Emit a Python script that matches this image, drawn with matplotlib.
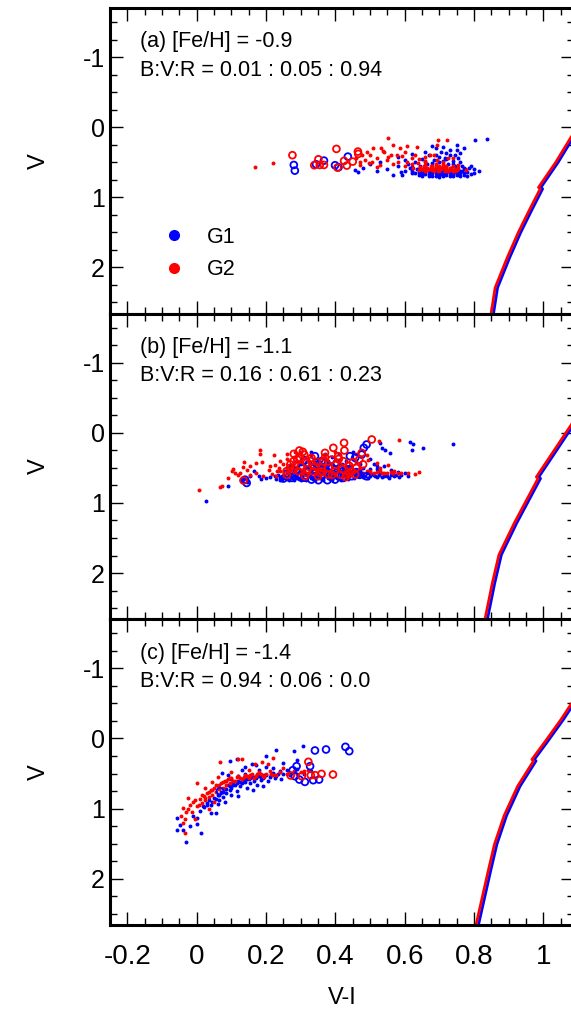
import matplotlib
matplotlib.use("Agg")
import matplotlib.pyplot as plt
from matplotlib.lines import Line2D

plt.rcParams['font.family'] = ['Liberation Sans', 'DejaVu Sans']

# ---- panel (a) data : (V-I, V) ----
a_g1_x = [0.457, 0.466, 0.50, 0.567, 0.591, 0.55, 0.58, 0.60, 0.615, 0.62, 0.63, 0.635, 0.64, 0.645, 0.65,
          0.655, 0.66, 0.66, 0.665, 0.67, 0.67, 0.675, 0.68, 0.68, 0.685, 0.69, 0.69, 0.695, 0.70, 0.70,
          0.705, 0.705, 0.71, 0.71, 0.715, 0.715, 0.72, 0.72, 0.725, 0.725, 0.73, 0.73, 0.735, 0.735, 0.74,
          0.74, 0.745, 0.745, 0.75, 0.75, 0.755, 0.755, 0.76, 0.76, 0.765, 0.77, 0.77, 0.775, 0.78, 0.785,
          0.79, 0.80, 0.803, 0.837, 0.66, 0.69, 0.70, 0.72, 0.60, 0.62, 0.58, 0.64, 0.67, 0.70, 0.73,
          0.76, 0.53, 0.52, 0.48, 0.68, 0.71, 0.74, 0.695, 0.65, 0.62,
          0.63, 0.64, 0.65, 0.66, 0.67, 0.68, 0.69, 0.70, 0.71, 0.72, 0.73, 0.74, 0.75, 0.76, 0.77,
          0.78, 0.765, 0.755, 0.745, 0.73, 0.715, 0.705, 0.69, 0.675, 0.66, 0.645, 0.68, 0.71, 0.74,
          0.76, 0.72, 0.69, 0.745, 0.73, 0.71, 0.75, 0.68, 0.79, 0.80, 0.815, 0.77, 0.62, 0.61, 0.59]
a_g1_v = [0.61, 0.634, 0.52, 0.68, 0.68, 0.60, 0.55, 0.62, 0.58, 0.66, 0.50, 0.60, 0.64, 0.55, 0.45,
          0.62, 0.67, 0.58, 0.52, 0.40, 0.63, 0.60, 0.66, 0.55, 0.47, 0.62, 0.69, 0.58, 0.64, 0.50,
          0.36, 0.67, 0.61, 0.55, 0.44, 0.65, 0.60, 0.68, 0.52, 0.63, 0.40, 0.66, 0.58, 0.62, 0.69,
          0.48, 0.64, 0.56, 0.33, 0.60, 0.66, 0.44, 0.62, 0.37, 0.55, 0.65, 0.30, 0.60, 0.64, 0.58,
          0.67, 0.60, 0.18, 0.17, 0.35, 0.30, 0.42, 0.37, 0.47, 0.38, 0.43, 0.68, 0.70, 0.71, 0.70,
          0.69, 0.50, 0.62, 0.58, 0.63, 0.67, 0.63, 0.66, 0.66, 0.63,
          0.66, 0.60, 0.69, 0.64, 0.67, 0.69, 0.66, 0.68, 0.69, 0.66, 0.64, 0.67, 0.68, 0.66, 0.68,
          0.69, 0.62, 0.63, 0.61, 0.62, 0.59, 0.62, 0.60, 0.64, 0.61, 0.64, 0.51, 0.48, 0.52,
          0.50, 0.45, 0.39, 0.40, 0.33, 0.28, 0.26, 0.27, 0.55, 0.65, 0.62, 0.58, 0.57, 0.52, 0.64]
a_g2_x = [0.168, 0.219, 0.551, 0.509, 0.490, 0.476, 0.533, 0.536, 0.567, 0.586, 0.607, 0.636, 0.692, 0.721,
          0.697, 0.507, 0.529, 0.553, 0.577, 0.591, 0.606, 0.620, 0.639, 0.658, 0.673, 0.685, 0.694, 0.711,
          0.726, 0.740, 0.755, 0.777, 0.485, 0.498, 0.519, 0.46, 0.47, 0.55, 0.565, 0.60, 0.63, 0.66,
          0.645, 0.65, 0.655, 0.66, 0.665, 0.67, 0.675, 0.68, 0.685, 0.69, 0.695, 0.70, 0.705, 0.71,
          0.715, 0.72, 0.725, 0.73, 0.735, 0.74, 0.745, 0.75, 0.755, 0.70, 0.68, 0.66, 0.72, 0.74, 0.64, 0.625,
          0.655, 0.665, 0.675, 0.685, 0.695, 0.705, 0.715, 0.725, 0.735, 0.745, 0.70, 0.72, 0.69, 0.71,
          0.66, 0.64, 0.62, 0.60, 0.58, 0.56, 0.52, 0.54, 0.50, 0.47]
a_g2_v = [0.562, 0.505, 0.158, 0.30, 0.348, 0.396, 0.30, 0.334, 0.253, 0.30, 0.267, 0.277, 0.253, 0.181,
          0.181, 0.491, 0.539, 0.42, 0.396, 0.41, 0.491, 0.443, 0.515, 0.42, 0.396, 0.396, 0.467, 0.491,
          0.443, 0.443, 0.539, 0.61, 0.467, 0.515, 0.572, 0.44, 0.50, 0.47, 0.52, 0.36, 0.40, 0.50,
          0.57, 0.60, 0.55, 0.62, 0.58, 0.60, 0.56, 0.61, 0.59, 0.57, 0.62, 0.59, 0.60, 0.57,
          0.62, 0.59, 0.61, 0.58, 0.60, 0.62, 0.59, 0.61, 0.58, 0.63, 0.55, 0.54, 0.55, 0.56, 0.61, 0.58,
          0.60, 0.61, 0.59, 0.62, 0.60, 0.58, 0.60, 0.63, 0.61, 0.62, 0.56, 0.57, 0.53, 0.52,
          0.48, 0.45, 0.52, 0.55, 0.49, 0.40, 0.44, 0.35, 0.40, 0.54]
a_g1o_x = [0.280, 0.283, 0.344, 0.367, 0.399, 0.409, 0.436]
a_g1o_v = [0.539, 0.62, 0.529, 0.477, 0.543, 0.572, 0.42]
a_g2o_x = [0.276, 0.339, 0.351, 0.355, 0.367, 0.403, 0.406, 0.425, 0.433, 0.450, 0.465, 0.466]
a_g2o_v = [0.40, 0.543, 0.458, 0.539, 0.539, 0.31, 0.577, 0.481, 0.548, 0.491, 0.348, 0.381]

# ---- panel (b) data ----
b_g1_x = [0.027, 0.091, 0.127, 0.135, 0.145, 0.18, 0.185, 0.20, 0.21, 0.23, 0.24, 0.24, 0.25, 0.26, 0.27,
          0.28, 0.29, 0.30, 0.30, 0.31, 0.32, 0.33, 0.34, 0.35, 0.36, 0.37, 0.38, 0.39, 0.40, 0.41,
          0.42, 0.43, 0.44, 0.45, 0.46, 0.47, 0.48, 0.49, 0.50, 0.51, 0.52, 0.53, 0.54, 0.55, 0.56,
          0.57, 0.58, 0.59, 0.529, 0.534, 0.543, 0.558, 0.615, 0.62, 0.625, 0.652, 0.738, 0.50, 0.51,
          0.52, 0.54, 0.56, 0.48, 0.46, 0.44, 0.42, 0.40, 0.38, 0.36, 0.34, 0.32, 0.30, 0.28, 0.26,
          0.35, 0.39, 0.43, 0.47, 0.29, 0.33, 0.41, 0.45, 0.155, 0.165,
          0.225, 0.235, 0.245, 0.255, 0.265, 0.275, 0.285, 0.295, 0.305, 0.315, 0.325, 0.335, 0.345,
          0.355, 0.365, 0.375, 0.385, 0.395, 0.405, 0.415, 0.425, 0.435, 0.445, 0.455, 0.465, 0.475,
          0.485, 0.495, 0.505, 0.515, 0.525, 0.535, 0.545, 0.555, 0.565, 0.575, 0.585, 0.60, 0.61,
          0.50, 0.52, 0.47, 0.43, 0.39, 0.37, 0.35, 0.31, 0.27]
b_g1_v = [0.977, 0.753, 0.68, 0.65, 0.70, 0.62, 0.66, 0.64, 0.63, 0.66, 0.64, 0.68, 0.62, 0.66, 0.60,
          0.67, 0.64, 0.62, 0.68, 0.66, 0.60, 0.64, 0.68, 0.62, 0.66, 0.60, 0.64, 0.68, 0.62, 0.66,
          0.60, 0.64, 0.62, 0.58, 0.62, 0.60, 0.63, 0.58, 0.62, 0.60, 0.63, 0.58, 0.61, 0.62, 0.60,
          0.62, 0.56, 0.60, 0.144, 0.215, 0.239, 0.287, 0.134, 0.239, 0.153, 0.215, 0.158, 0.38, 0.45,
          0.52, 0.48, 0.53, 0.50, 0.42, 0.50, 0.45, 0.50, 0.40, 0.48, 0.42, 0.50, 0.45, 0.55, 0.58,
          0.55, 0.56, 0.55, 0.53, 0.32, 0.28, 0.30, 0.28, 0.62, 0.55,
          0.62, 0.60, 0.66, 0.64, 0.68, 0.63, 0.61, 0.66, 0.64, 0.68, 0.62, 0.66, 0.60,
          0.64, 0.68, 0.62, 0.66, 0.60, 0.64, 0.68, 0.62, 0.66, 0.60, 0.64, 0.62, 0.58,
          0.61, 0.64, 0.59, 0.62, 0.60, 0.63, 0.59, 0.64, 0.58, 0.60, 0.63, 0.57, 0.61,
          0.52, 0.47, 0.45, 0.40, 0.35, 0.30, 0.38, 0.35, 0.48]
b_g2_x = [0.007, 0.067, 0.072, 0.105, 0.11, 0.103, 0.125, 0.135, 0.133, 0.145, 0.155, 0.183, 0.188, 0.181,
          0.212, 0.207, 0.217, 0.222, 0.226, 0.231, 0.236, 0.241, 0.283, 0.28, 0.29, 0.155, 0.17, 0.19,
          0.23, 0.25, 0.26, 0.27, 0.30, 0.32, 0.33, 0.35, 0.37, 0.39, 0.41, 0.43, 0.45, 0.47, 0.49,
          0.527, 0.584, 0.49, 0.495, 0.519, 0.529, 0.553, 0.567, 0.582, 0.534, 0.50, 0.52, 0.54, 0.56,
          0.40, 0.42, 0.44, 0.46, 0.38, 0.36, 0.34, 0.30,
          0.26, 0.28, 0.29, 0.31, 0.32, 0.34, 0.35, 0.36, 0.38, 0.39, 0.41, 0.42, 0.43, 0.44, 0.46,
          0.48, 0.50, 0.51, 0.53, 0.55, 0.57, 0.59, 0.61, 0.63, 0.64, 0.24, 0.26, 0.30, 0.33, 0.37,
          0.41, 0.45, 0.40, 0.46, 0.17, 0.12, 0.09]
b_g2_v = [0.82, 0.772, 0.753, 0.52, 0.57, 0.55, 0.57, 0.41, 0.49, 0.53, 0.47, 0.24, 0.41, 0.30,
          0.47, 0.53, 0.59, 0.31, 0.46, 0.55, 0.50, 0.55, 0.27, 0.34, 0.30, 0.60, 0.58, 0.62,
          0.62, 0.45, 0.38, 0.50, 0.40, 0.38, 0.55, 0.45, 0.52, 0.45, 0.52, 0.48, 0.55, 0.50, 0.55,
          0.11, 0.106, 0.31, 0.382, 0.43, 0.50, 0.453, 0.572, 0.572, 0.572, 0.58, 0.56, 0.57, 0.56,
          0.58, 0.57, 0.58, 0.57, 0.57, 0.58, 0.57, 0.58,
          0.55, 0.52, 0.58, 0.54, 0.60, 0.52, 0.58, 0.54, 0.52, 0.58, 0.55, 0.60, 0.53, 0.56, 0.53,
          0.58, 0.55, 0.58, 0.55, 0.58, 0.55, 0.57, 0.58, 0.59, 0.56, 0.40, 0.30, 0.28, 0.32, 0.36,
          0.40, 0.38, 0.27, 0.30, 0.43, 0.60, 0.64]
b_g1o_x = [0.49, 0.482, 0.476, 0.457, 0.442, 0.404, 0.385, 0.36, 0.341, 0.322, 0.303, 0.288, 0.274, 0.25,
           0.331, 0.351, 0.377, 0.399, 0.423, 0.447, 0.37, 0.413, 0.35, 0.139, 0.144, 0.30, 0.32, 0.43,
           0.47, 0.39, 0.29, 0.26, 0.28, 0.31, 0.34, 0.36, 0.38, 0.40, 0.42, 0.44, 0.46, 0.49, 0.33,
           0.37, 0.39, 0.31]
b_g1o_v = [0.167, 0.214, 0.31, 0.357, 0.333, 0.429, 0.476, 0.405, 0.333, 0.452, 0.5, 0.452, 0.643, 0.652,
           0.667, 0.676, 0.676, 0.667, 0.643, 0.619, 0.548, 0.5, 0.45, 0.668, 0.715, 0.60, 0.56, 0.58,
           0.60, 0.62, 0.55, 0.58, 0.62, 0.64, 0.62, 0.60, 0.57, 0.60, 0.55, 0.52, 0.56, 0.62, 0.50,
           0.43, 0.50, 0.40]
b_g2o_x = [0.505, 0.425, 0.394, 0.296, 0.306, 0.37, 0.426, 0.476, 0.469, 0.298, 0.279, 0.317, 0.331, 0.346,
           0.365, 0.389, 0.408, 0.423, 0.259, 0.269, 0.293, 0.312, 0.355, 0.38, 0.399, 0.413, 0.433,
           0.447, 0.457, 0.336, 0.317, 0.135, 0.28, 0.31, 0.36, 0.44, 0.27,
           0.28, 0.30, 0.32, 0.34, 0.36, 0.38, 0.40, 0.42, 0.44, 0.46, 0.29, 0.33, 0.37, 0.41,
           0.45, 0.39, 0.35, 0.43, 0.26, 0.48]
b_g2o_v = [0.095, 0.143, 0.214, 0.252, 0.271, 0.286, 0.252, 0.286, 0.381, 0.357, 0.405, 0.429, 0.357, 0.414,
           0.405, 0.381, 0.333, 0.405, 0.548, 0.5, 0.548, 0.619, 0.571, 0.595, 0.548, 0.595, 0.595,
           0.548, 0.595, 0.548, 0.571, 0.68, 0.30, 0.31, 0.50, 0.47, 0.45,
           0.52, 0.48, 0.52, 0.48, 0.55, 0.50, 0.46, 0.52, 0.58, 0.50, 0.38, 0.40, 0.35, 0.37,
           0.42, 0.60, 0.62, 0.63, 0.60, 0.45]

# ---- panel (c) data ----
c_g1_x = [-0.058, -0.056, -0.047, -0.032, -0.021, 0.011, -0.01, 0.0, 0.009, 0.019, 0.029, 0.035, 0.055, 0.04,
          0.05, 0.06, 0.065, 0.07, 0.075, 0.08, 0.085, 0.09, 0.095, 0.10, 0.105, 0.11, 0.115, 0.12,
          0.125, 0.13, 0.135, 0.14, 0.145, 0.15, 0.155, 0.16, 0.165, 0.17, 0.175, 0.18, 0.185, 0.19,
          0.20, 0.205, 0.21, 0.22, 0.23, 0.24, 0.242, 0.25, 0.26, 0.27, 0.28, 0.29, 0.31, 0.33, 0.072,
          0.096, 0.117, 0.14, 0.16, 0.201, 0.23, 0.25, 0.28, 0.306, 0.288, 0.221, 0.12, 0.163, 0.192,
          0.06, 0.10, 0.13, 0.09,
          0.02, 0.03, 0.045, 0.055, 0.065, 0.075, 0.085, 0.095, 0.105, 0.115, 0.125, 0.135, 0.145,
          0.155, 0.165, 0.175, 0.185, 0.195, 0.215, 0.225, 0.235, 0.10, 0.12, 0.14, 0.18, 0.20,
          0.22, 0.17, 0.08, 0.04, -0.04, 0.0]
c_g1_v = [1.13, 1.31, 1.24, 1.48, 1.25, 1.35, 1.10, 1.13, 1.04, 0.97, 0.92, 0.88, 1.06, 0.95,
          0.85, 0.80, 0.88, 0.76, 0.83, 0.72, 0.78, 0.66, 0.74, 0.70, 0.62, 0.67, 0.75, 0.60,
          0.68, 0.64, 0.56, 0.62, 0.70, 0.58, 0.64, 0.55, 0.61, 0.57, 0.66, 0.53, 0.59, 0.56,
          0.52, 0.60, 0.55, 0.50, 0.54, 0.47, 0.58, 0.50, 0.45, 0.52, 0.48, 0.44, 0.50, 0.46, 0.49,
          0.32, 0.29, 0.40, 0.36, 0.25, 0.16, 0.35, 0.18, 0.11, 0.30, 0.49, 0.82, 0.73, 0.68,
          0.94, 0.80, 0.45, 0.52,
          0.98, 0.95, 0.90, 0.86, 0.80, 0.77, 0.72, 0.68, 0.66, 0.63, 0.62, 0.60, 0.58,
          0.57, 0.55, 0.54, 0.55, 0.52, 0.52, 0.56, 0.50, 0.58, 0.53, 0.50, 0.45, 0.40,
          0.42, 0.38, 0.90, 1.07, 1.30, 1.22]
c_g2_x = [0.067, 0.12, 0.131, 0.168, 0.187, 0.221, 0.206, 0.0, -0.024, -0.039, -0.041, -0.034, -0.03, -0.02,
          -0.01, 0.0, 0.01, 0.015, 0.02, 0.025, 0.03, 0.035, 0.04, 0.045, 0.05, 0.055, 0.06, 0.065,
          0.07, 0.075, 0.08, 0.085, 0.09, 0.095, 0.10, 0.11, 0.12, 0.13, 0.14, 0.15, 0.16, 0.17,
          0.18, 0.19, 0.20, 0.21, 0.22, 0.24, 0.26, 0.28, 0.30, 0.32, 0.025, 0.045, 0.06, 0.035,
          -0.005, 0.05, 0.15, 0.10, 0.25,
          -0.045, -0.035, -0.025, -0.015, -0.005, 0.005, 0.015, 0.025, 0.035, 0.045, 0.055, 0.065,
          0.075, 0.085, 0.095, 0.105, 0.115, 0.125, 0.135, 0.145, 0.155, 0.165, 0.175, 0.185, 0.195,
          0.215, 0.23, 0.27, 0.29, 0.31]
c_g2_v = [0.333, 0.286, 0.29, 0.362, 0.338, 0.276, 0.371, 0.633, 0.848, 0.99, 1.204, 1.347, 1.05, 0.95,
          0.90, 0.96, 0.86, 0.92, 0.82, 0.88, 0.78, 0.84, 0.74, 0.80, 0.70, 0.76, 0.68, 0.72,
          0.64, 0.70, 0.61, 0.66, 0.58, 0.63, 0.56, 0.60, 0.54, 0.58, 0.52, 0.56, 0.50, 0.54,
          0.48, 0.53, 0.50, 0.47, 0.52, 0.48, 0.50, 0.46, 0.48, 0.45, 0.70, 0.62, 0.55, 1.00,
          1.15, 0.90, 0.45, 0.48, 0.42,
          1.10, 1.15, 1.00, 1.05, 0.88, 0.95, 0.80, 0.85, 0.76, 0.73, 0.67, 0.66,
          0.62, 0.60, 0.57, 0.60, 0.55, 0.57, 0.55, 0.54, 0.52, 0.56, 0.50, 0.51, 0.55,
          0.50, 0.52, 0.49, 0.50, 0.47]
c_g1o_x = [0.341, 0.373, 0.429, 0.44, 0.288, 0.277, 0.283, 0.296, 0.312, 0.336, 0.353, 0.327, 0.067]
c_g1o_v = [0.171, 0.157, 0.119, 0.181, 0.395, 0.452, 0.538, 0.586, 0.619, 0.595, 0.586, 0.395, 0.752]
c_g2o_x = [0.322, 0.271, 0.303, 0.329, 0.342, 0.36, 0.393]
c_g2o_v = [0.333, 0.528, 0.538, 0.524, 0.524, 0.505, 0.514]

# ---- isochrones (G2 red, G1 blue) ----
iso_a_v = [2.70, 2.29, 1.86, 1.50, 1.20, 0.88, 0.86, 0.50, 0.16, -0.20]
iso_a_g2 = [0.848, 0.861, 0.896, 0.928, 0.958, 0.991, 0.986, 1.036, 1.078, 1.125]
iso_a_g1 = [0.855, 0.868, 0.903, 0.935, 0.965, 0.998, 0.993, 1.043, 1.085, 1.132]
iso_b_v = [2.70, 2.14, 1.74, 1.29, 0.65, 0.63, -0.11, -0.40]
iso_b_g2 = [0.830, 0.853, 0.872, 0.916, 0.985, 0.980, 1.080, 1.115]
iso_b_g1 = [0.837, 0.860, 0.879, 0.923, 0.992, 0.987, 1.087, 1.122]
iso_c_v = [2.70, 1.89, 1.51, 1.10, 0.68, 0.32, 0.30, 0.06, -0.27, -0.60]
iso_c_g2 = [0.804, 0.841, 0.859, 0.887, 0.926, 0.972, 0.967, 1.003, 1.051, 1.095]
iso_c_g1 = [0.811, 0.848, 0.866, 0.894, 0.933, 0.979, 0.974, 1.010, 1.058, 1.102]

panels = [
    ("(a) [Fe/H] = -0.9", "B:V:R = 0.01 : 0.05 : 0.94",
     a_g1_x, a_g1_v, a_g2_x, a_g2_v, a_g1o_x, a_g1o_v, a_g2o_x, a_g2o_v, iso_a_v, iso_a_g1, iso_a_g2),
    ("(b) [Fe/H] = -1.1", "B:V:R = 0.16 : 0.61 : 0.23",
     b_g1_x, b_g1_v, b_g2_x, b_g2_v, b_g1o_x, b_g1o_v, b_g2o_x, b_g2o_v, iso_b_v, iso_b_g1, iso_b_g2),
    ("(c) [Fe/H] = -1.4", "B:V:R = 0.94 : 0.06 : 0.0",
     c_g1_x, c_g1_v, c_g2_x, c_g2_v, c_g1o_x, c_g1o_v, c_g2o_x, c_g2o_v, iso_c_v, iso_c_g1, iso_c_g2),
]

fig, axes = plt.subplots(3, 1, figsize=(5.71, 10.11), dpi=100, sharex=True)
fig.subplots_adjust(left=0.1926, right=1.006, top=0.9921, bottom=0.0851, hspace=0)

for ax, p in zip(axes, panels):
    (t1, t2, g1x, g1v, g2x, g2v, g1ox, g1ov, g2ox, g2ov, iv, ig1, ig2) = p
    ax.plot(ig1, iv, color='blue', lw=2.0, zorder=2)
    ax.plot(ig2, iv, color='red', lw=2.0, zorder=2)
    ax.scatter(g1x, g1v, s=8, color='blue', lw=0, zorder=3)
    ax.scatter(g2x, g2v, s=8, color='red', lw=0, zorder=3)
    ax.scatter(g1ox, g1ov, s=24, facecolors='none', edgecolors='blue', lw=1.3, zorder=4)
    ax.scatter(g2ox, g2ov, s=24, facecolors='none', edgecolors='red', lw=1.3, zorder=4)
    ax.text(0.065, 0.889, t1, transform=ax.transAxes, fontsize=15.5, va='center', ha='left')
    ax.text(0.065, 0.797, t2, transform=ax.transAxes, fontsize=15.5, va='center', ha='left')
    ax.set_xlim(-0.2505, 1.0898)
    ax.set_ylim(2.66, -1.70)
    ax.set_yticks([-1, 0, 1, 2])
    ax.set_yticks([-1.5, -1.25, -0.75, -0.5, -0.25, 0.25, 0.5, 0.75, 1.25, 1.5, 1.75, 2.25, 2.5], minor=True)
    ax.set_xticks([-0.2, 0, 0.2, 0.4, 0.6, 0.8, 1.0])
    ax.set_xticks([-0.15, -0.1, -0.05, 0.05, 0.1, 0.15, 0.25, 0.3, 0.35, 0.45, 0.5, 0.55,
                   0.65, 0.7, 0.75, 0.85, 0.9, 0.95, 1.05], minor=True)
    ax.set_xticklabels(['-0.2', '0', '0.2', '0.4', '0.6', '0.8', '1'])
    ax.set_yticklabels(['-1', '0', '1', '2'])
    ax.tick_params(which='both', direction='in', top=True, right=True, width=1.0, labelsize=18)
    ax.tick_params(which='major', length=9.5)
    ax.tick_params(which='minor', length=5)
    ax.tick_params(axis='x', labelsize=20, pad=14)
    for sp in ax.spines.values():
        sp.set_linewidth(2.2)
    ax.set_ylabel("V", fontsize=17, labelpad=24)

axes[-1].set_xlabel("V-I", fontsize=17, labelpad=12)

handles = [Line2D([], [], marker='o', color='blue', ls='none', markersize=7),
           Line2D([], [], marker='o', color='red', ls='none', markersize=7)]
axes[0].legend(handles, ['G1', 'G2'], loc='upper left', bbox_to_anchor=(0.115, 0.285),
               frameon=False, fontsize=15.5, handlelength=1.0, handletextpad=1.0,
               labelspacing=0.55, borderpad=0, borderaxespad=0)

fig.savefig("out.png", dpi=100)
